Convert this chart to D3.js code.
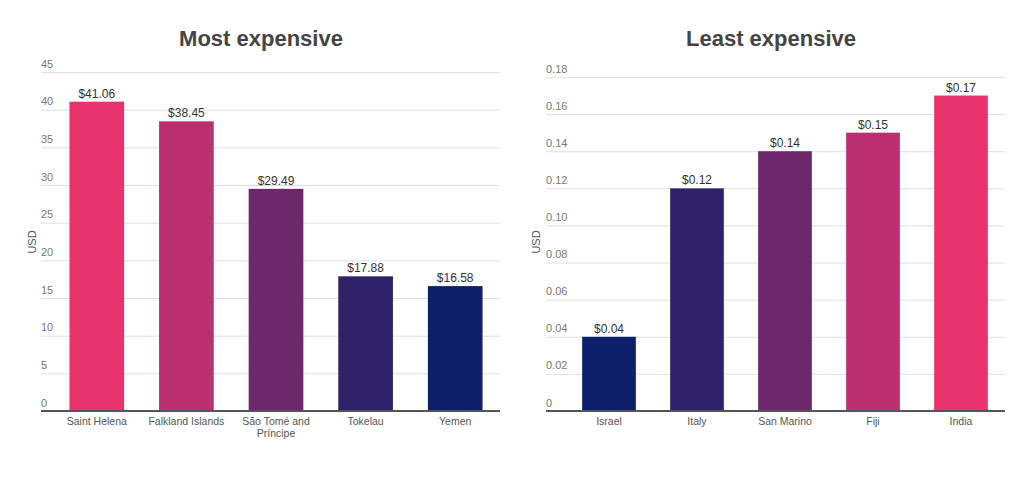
<!DOCTYPE html>
<html><head><meta charset="utf-8">
<script src="https://cdn.jsdelivr.net/npm/d3@7"></script>
<style>
body{margin:0;background:#fff;font-family:"Liberation Sans",Arial,sans-serif;}
</style></head>
<body><svg id="c" width="1024" height="484"></svg>
<script>
const mostCategories = ["Saint Helena","Falkland Islands","São Tomé and Príncipe","Tokelau","Yemen"];
const mostValues = [41.06, 38.45, 29.49, 17.88, 16.58];
const mostTicks = [0,5,10,15,20,25,30,35,40,45];
const mostLabels = ["$41.06","$38.45","$29.49","$17.88","$16.58"];
const mostColors = ["#e8336d","#b92f6f","#6d276d","#2f216a","#0d1f6b"];

const leastCategories = ["Israel","Italy","San Marino","Fiji","India"];
const leastValues = [0.04, 0.12, 0.14, 0.15, 0.17];
const leastTicks = [0,0.02,0.04,0.06,0.08,0.10,0.12,0.14,0.16,0.18];
const leastTickLabels = ["0","0.02","0.04","0.06","0.08","0.10","0.12","0.14","0.16","0.18"];
const leastLabels = ["$0.04","$0.12","$0.14","$0.15","$0.17"];
const leastColors = ["#0d1f6b","#2f216a","#6d276d","#b92f6f","#e8336d"];

const svg = d3.select("#c");

function chart(opt){
  const g = svg.append("g");
  const y = d3.scaleLinear().domain([0, opt.max]).range([411, opt.top]);
  const x = d3.scaleBand().domain(opt.cats).range([opt.bandL, opt.bandR]).paddingInner(0.39).paddingOuter(0.195);
  // title
  g.append("text").attr("x", opt.titleX).attr("y", 46).attr("text-anchor","middle")
    .attr("font-size", 22).attr("font-weight","bold").attr("fill","#444").text(opt.title);
  // gridlines
  const yAxis = d3.axisLeft(y).tickValues(opt.ticks).tickSize(-(opt.gridR - opt.gridL)).tickFormat((d,i)=>opt.tickLabels[i]);
  const ya = g.append("g").attr("transform",`translate(${opt.gridL},0)`).call(yAxis);
  ya.select(".domain").remove();
  ya.selectAll(".tick line").attr("stroke","#e0e0e0").attr("stroke-width",1);
  ya.selectAll(".tick text").attr("x",0).attr("dy","-5").attr("text-anchor","start")
    .attr("font-size",11).attr("fill","#777").attr("font-family","Liberation Sans, Arial, sans-serif");
  ya.selectAll(".tick").filter(d=>d===0).select("line").remove();
  // y axis title
  g.append("text").attr("transform",`translate(${opt.usdX},242) rotate(-90)`).attr("text-anchor","middle")
    .attr("font-size",11).attr("fill","#555").text("USD");
  // bars
  g.selectAll("rect.bar").data(opt.vals).join("rect").attr("class","bar")
    .attr("x",(d,i)=>x(opt.cats[i])).attr("width",x.bandwidth())
    .attr("y",d=>y(d)).attr("height",d=>411-y(d)).attr("fill",(d,i)=>opt.colors[i]);
  // value labels
  g.selectAll("text.val").data(opt.vals).join("text").attr("class","val")
    .attr("x",(d,i)=>x(opt.cats[i])+x.bandwidth()/2).attr("y",d=>y(d)-4)
    .attr("text-anchor","middle").attr("font-size",12).attr("fill","#333").text((d,i)=>opt.labels[i]);
  // baseline
  g.append("line").attr("x1",opt.gridL).attr("x2",opt.gridR).attr("y1",411).attr("y2",411)
    .attr("stroke","#555").attr("stroke-width",2);
  // x labels
  opt.cats.forEach((c,i)=>{
    const cx = x(c)+x.bandwidth()/2;
    const t = g.append("text").attr("x",cx).attr("y",425).attr("text-anchor","middle")
      .attr("font-size",10.5).attr("fill","#555");
    const lines = c === "São Tomé and Príncipe" ? ["São Tomé and","Príncipe"] : [c];
    lines.forEach((l,j)=>t.append("tspan").attr("x",cx).attr("dy", j===0?0:12).text(l));
  });
}

chart({title:"Most expensive", titleX:261, cats:mostCategories, vals:mostValues, labels:mostLabels,
  colors:mostColors, ticks:mostTicks, tickLabels:mostTicks.map(String), max:45, top:72,
  gridL:41, gridR:500, bandL:52, bandR:500, usdX:36});
chart({title:"Least expensive", titleX:771, cats:leastCategories, vals:leastValues, labels:leastLabels,
  colors:leastColors, ticks:leastTicks, tickLabels:leastTickLabels, max:0.18, top:77,
  gridL:546, gridR:1005, bandL:565, bandR:1005, usdX:540});
</script></body></html>
